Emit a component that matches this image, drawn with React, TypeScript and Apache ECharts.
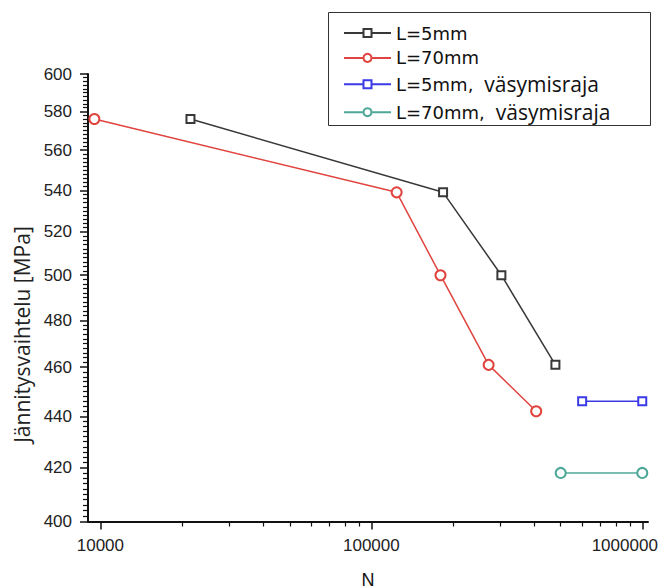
import React, { useEffect, useRef } from 'react';
import * as echarts from 'echarts';

// Data (N = cycles, S = stress range in MPa)
const L5_N = [21500, 184000, 302000, 478000];
const L5_S = [576, 539, 500, 461];
const L70_N = [9500, 124000, 180000, 271000, 406000];
const L70_S = [576, 539, 500, 461, 442];
const L5_LIMIT_N = [600000, 1000000];
const L5_LIMIT_S = [446, 446];
const L70_LIMIT_N = [500000, 1000000];
const L70_LIMIT_S = [418, 418];

const SERIES_NAMES = ['L=5mm', 'L=70mm', 'L=5mm, väsymisraja', 'L=70mm, väsymisraja'];
const SERIES_COLORS = ['#383838', '#e0443e', '#3a3ae6', '#4ea898'];
const SERIES_SYMBOLS = ['emptyRect', 'emptyCircle', 'emptyRect', 'emptyCircle'];

// Axis range, ticks and labels
const X_MIN = 9000;
const X_MAX = 1050000;
const Y_MIN = 400;
const Y_MAX = 600;
const X_MAJOR = [10000, 100000, 1000000];
const X_MINOR = [
  20000, 30000, 40000, 50000, 60000, 70000, 80000, 90000,
  200000, 300000, 400000, 500000, 600000, 700000, 800000, 900000,
];
const Y_MAJOR = [400, 420, 440, 460, 480, 500, 520, 540, 560, 580, 600];
const Y_MINOR_STEP = 2;

const X_TITLE = 'N';
const Y_TITLE = 'Jännitysvaihtelu [MPa]';

const pairs = (xs: number[], ys: number[]) => xs.map((x, i) => [x, ys[i]]);

export default function App() {
  const ref = useRef<HTMLDivElement>(null);

  useEffect(() => {
    if (!ref.current) return;
    const chart = echarts.init(ref.current, undefined, { renderer: 'svg' });

    const yMinorTicks: number[] = [];
    for (let v = Y_MIN + Y_MINOR_STEP; v < Y_MAX; v += Y_MINOR_STEP) {
      if (Y_MAJOR.indexOf(v) < 0) yMinorTicks.push(v);
    }

    const dataSets = [
      pairs(L5_N, L5_S),
      pairs(L70_N, L70_S),
      pairs(L5_LIMIT_N, L5_LIMIT_S),
      pairs(L70_LIMIT_N, L70_LIMIT_S),
    ];

    const axisColor = '#111';
    const labelFont = 'Liberation Sans';

    const lineSeries = SERIES_NAMES.map((name, i) => ({
      name,
      type: 'line',
      xAxisIndex: 0,
      yAxisIndex: 0,
      data: dataSets[i],
      symbol: SERIES_SYMBOLS[i],
      symbolSize: SERIES_SYMBOLS[i] === 'emptyRect' ? 8 : 10,
      showAllSymbol: true,
      lineStyle: { color: SERIES_COLORS[i], width: 1.5 },
      itemStyle: { color: SERIES_COLORS[i], borderWidth: 1.5 },
      emphasis: { disabled: true },
      z: 3,
    }));

    chart.setOption({
      animation: false,
      backgroundColor: '#fff',
      textStyle: { fontFamily: labelFont },
      grid: {
        left: 88,
        right: 19,
        top: 74,
        bottom: 66.5,
        containLabel: false,
        outerBoundsMode: 'none',
      },
      legend: {
        orient: 'vertical',
        left: 343,
        top: 24,
        padding: 0,
        itemGap: 6.9,
        itemWidth: 47,
        itemHeight: 10,
        selectedMode: false,
        data: SERIES_NAMES,
        formatter: (name: string) => {
          const parts = name.split(',');
          return parts.length > 1
            ? `{a|${parts[0]},}{b|${parts[1].trim()}}`
            : `{a|${name}}`;
        },
        textStyle: {
          color: '#111',
          rich: {
            a: { fontFamily: 'DejaVu Sans', fontSize: 18, lineHeight: 20, color: '#111' },
            b: {
              fontFamily: 'Open Sans',
              fontSize: 21,
              lineHeight: 20,
              color: '#111',
              padding: [0, 0, 0, 11],
            },
          },
        },
      },
      graphic: [
        {
          type: 'rect',
          shape: { x: 328.5, y: 12.5, width: 322, height: 113 },
          style: { fill: 'none', stroke: '#333', lineWidth: 1 },
          z: 10,
        },
        {
          type: 'text',
          x: 22,
          y: 334.5,
          rotation: Math.PI / 2,
          style: {
            text: Y_TITLE,
            fontFamily: 'Open Sans',
            fontSize: 21,
            fill: '#222',
            align: 'center',
            verticalAlign: 'middle',
          },
        },
      ],
      xAxis: [
        {
          type: 'log',
          min: X_MIN,
          max: X_MAX,
          position: 'bottom',
          name: X_TITLE,
          nameLocation: 'middle',
          nameGap: 49,
          nameTextStyle: { fontFamily: labelFont, fontSize: 18, color: '#111' },
          axisLine: { show: true, lineStyle: { color: axisColor, width: 2 } },
          axisTick: {
            show: true,
            customValues: X_MAJOR,
            length: 8,
            lineStyle: { color: axisColor, width: 1.5 },
          },
          minorTick: { show: false },
          axisLabel: {
            customValues: X_MAJOR,
            margin: 15,
            fontFamily: labelFont,
            fontSize: 17,
            color: '#222',
            formatter: (v: number) => {
              const s = String(Math.round(v));
              return v > 999999 ? `{r|${s}}` : s;
            },
            rich: {
              r: {
                fontFamily: labelFont,
                fontSize: 17,
                color: '#222',
                padding: [0, 35, 0, 0],
              },
            },
          },
          splitLine: { show: false },
        },
        {
          type: 'log',
          min: X_MIN,
          max: X_MAX,
          position: 'bottom',
          axisLine: { show: false },
          axisTick: {
            show: true,
            customValues: X_MINOR,
            length: 5,
            lineStyle: { color: axisColor, width: 1.2 },
          },
          minorTick: { show: false },
          axisLabel: { show: false },
          splitLine: { show: false },
        },
      ],
      yAxis: [
        {
          type: 'log',
          min: Y_MIN,
          max: Y_MAX,
          position: 'left',
          axisLine: { show: true, lineStyle: { color: axisColor, width: 2 } },
          axisTick: {
            show: true,
            customValues: Y_MAJOR,
            length: 8,
            lineStyle: { color: axisColor, width: 1.5 },
          },
          minorTick: { show: false },
          axisLabel: {
            customValues: Y_MAJOR,
            margin: 16,
            fontFamily: labelFont,
            fontSize: 17,
            color: '#222',
            formatter: (v: number) => String(Math.round(v)),
          },
          splitLine: { show: false },
          z: 2,
        },
        {
          type: 'log',
          min: Y_MIN,
          max: Y_MAX,
          position: 'left',
          axisLine: { show: false },
          axisTick: {
            show: true,
            customValues: yMinorTicks,
            length: 5,
            lineStyle: { color: axisColor, width: 1.2 },
          },
          minorTick: { show: false },
          axisLabel: { show: false },
          splitLine: { show: false },
          z: 6,
        },
      ],
      series: lineSeries,
    });

    return () => chart.dispose();
  }, []);

  return (
    <div
      ref={ref}
      style={{ position: 'absolute', left: 0, top: 0, width: 667, height: 588, background: '#fff' }}
    />
  );
}
